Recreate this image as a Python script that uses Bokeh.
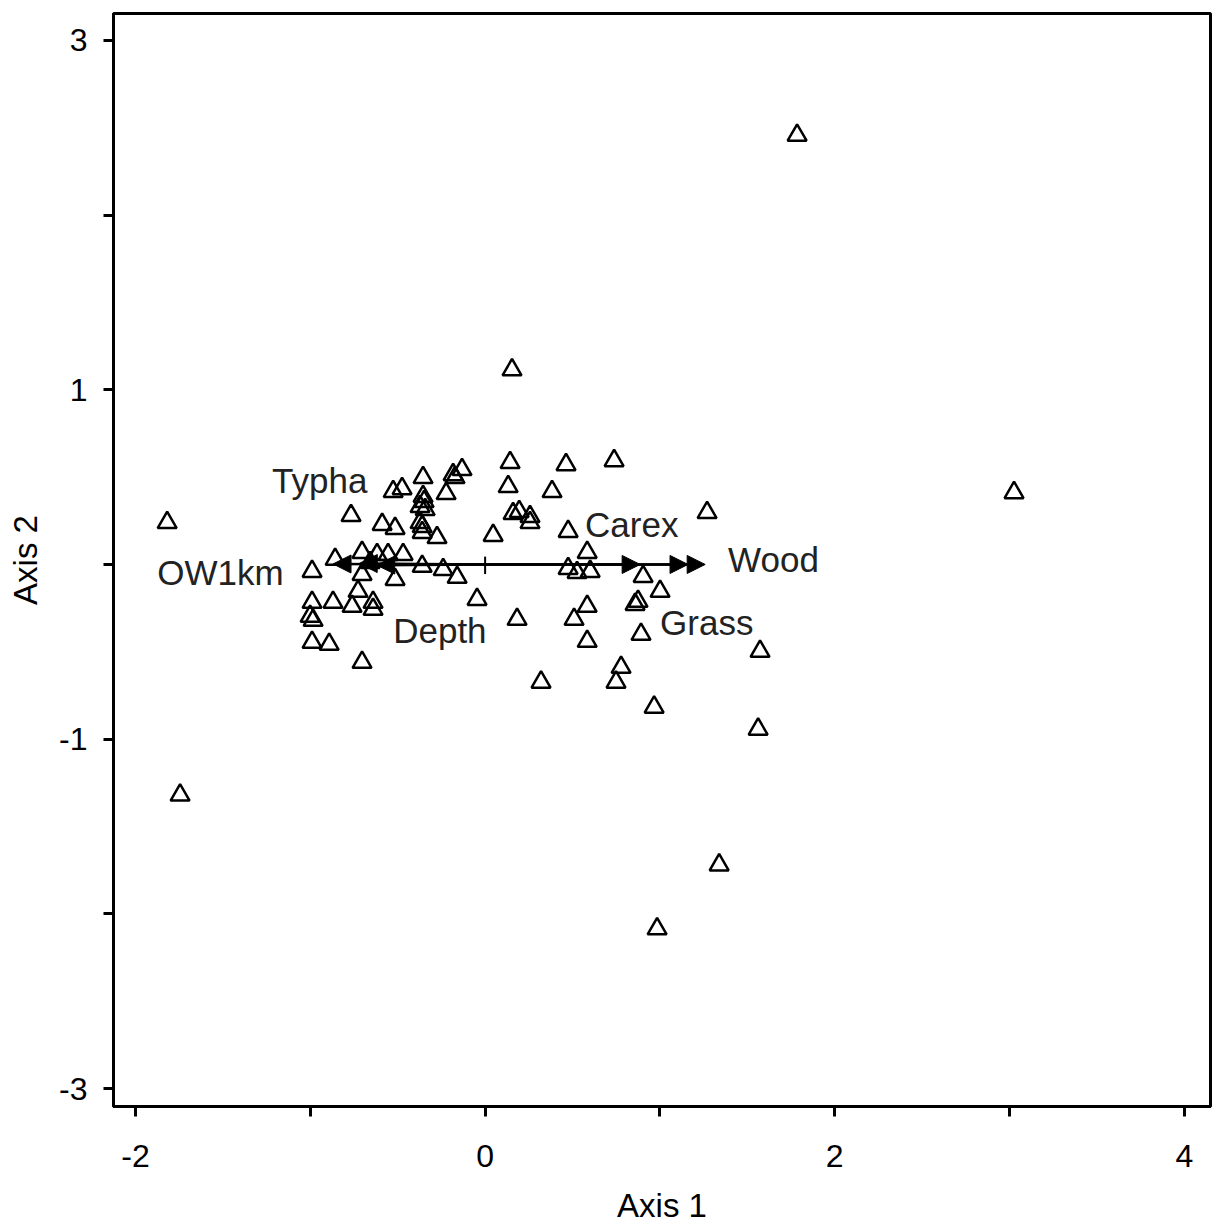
from bokeh.plotting import figure
from bokeh.models import (ColumnDataSource, Range1d, FixedTicker, Arrow, NormalHead)
from bokeh.core.properties import value
from bokeh.embed import file_html
from bokeh.resources import INLINE

# ---- data (site scores) ----
site_x = [1.785, 3.026, 0.154, -1.819, -1.745, 1.339, 0.984, 1.562, 1.573, 0.967,
          1.270, 1.001, 0.904, 0.858, 0.875, 0.892, 0.778, 0.749, 0.320, 0.183,
          0.509, 0.584, 0.584, 0.475, 0.526, 0.601, 0.584, 0.475, 0.046, 0.160,
          0.195, 0.257, 0.257, 0.132, 0.383, 0.143, 0.463, 0.738, -0.046, -0.160,
          -0.240, -0.360, -0.515, -0.704, -0.727, -0.990, -0.990, -0.870, -0.761, -0.641,
          -0.641, -1.001, -0.984, -0.990, -0.892, -0.704, -0.858, -0.704, -0.618, -0.555,
          -0.469, -0.658, -0.275, -0.589, -0.515, -0.372, -0.360, -0.360, -0.355, -0.349,
          -0.372, -0.343, -0.767, -0.526, -0.475, -0.355, -0.183, -0.132, -0.172, -0.223]
site_y = [2.457, 0.411, 1.114, 0.240, -1.320, -1.720, -2.086, -0.943, -0.497, -0.817,
          0.297, -0.154, -0.069, -0.229, -0.211, -0.400, -0.589, -0.674, -0.674, -0.314,
          -0.314, -0.240, -0.440, -0.023, -0.046, -0.040, 0.069, 0.189, 0.166, 0.291,
          0.303, 0.274, 0.240, 0.446, 0.417, 0.583, 0.571, 0.594, -0.200, -0.074,
          -0.029, -0.011, -0.086, -0.057, -0.154, -0.040, -0.217, -0.217, -0.240, -0.217,
          -0.257, -0.297, -0.320, -0.446, -0.457, -0.560, 0.029, 0.069, 0.057, 0.057,
          0.057, 0.011, 0.154, 0.229, 0.206, 0.240, 0.217, 0.183, 0.389, 0.360,
          0.331, 0.314, 0.280, 0.417, 0.434, 0.497, 0.514, 0.543, 0.497, 0.406]

# ---- environmental vectors ----
vec_names = ["OW1km", "Typha", "Depth", "Carex", "Grass", "Wood"]
vec_x = [-0.870, -0.720, -0.620, 0.887, 1.161, 1.259]
vec_y = [0.003, 0.006, -0.004, 0.0, 0.0, 0.0]
label_x = [-1.876, -1.219, -0.526, 0.572, 1.001, 1.390]
label_y = [-0.048, 0.483, -0.380, 0.226, -0.334, 0.026]

x_ticks = [-2, -1, 0, 1, 2, 3, 4]
x_tick_labels = {-2: "-2", -1: "", 0: "0", 1: "", 2: "2", 3: "", 4: "4"}
y_ticks = [-3, -2, -1, 0, 1, 2, 3]
y_tick_labels = {-3: "-3", -2: "", -1: "-1", 0: "", 1: "1", 2: "", 3: "3"}
x_title = "Axis 1"
y_title = "Axis 2"

FONT = "Liberation Sans"
X0, X1 = -2.126, 4.150
Y0, Y1 = -3.103, 3.154

p = figure(width=1216, height=1226, output_backend="svg", toolbar_location=None,
           x_range=Range1d(X0, X1), y_range=Range1d(Y0, Y1),
           min_border_left=113, min_border_right=6, min_border_top=13, min_border_bottom=118)
p.grid.visible = False
p.outline_line_color = "black"
p.outline_line_width = 3
p.background_fill_color = "white"
p.border_fill_color = "white"

for ax in (p.xaxis[0], p.yaxis[0]):
    ax.axis_line_width = 3
    ax.axis_line_color = "black"
    ax.major_tick_line_width = 3
    ax.major_tick_out = 10
    ax.major_tick_in = 0
    ax.minor_tick_line_color = None
    ax.major_label_text_font = FONT
    ax.major_label_text_font_size = "32px"
    ax.major_label_text_color = "black"
    ax.axis_label_text_font = FONT
    ax.axis_label_text_font_size = "33px"
    ax.axis_label_text_font_style = "normal"
    ax.axis_label_text_color = "black"

p.xaxis.ticker = FixedTicker(ticks=x_ticks)
p.yaxis.ticker = FixedTicker(ticks=y_ticks)
p.xaxis.major_label_overrides = x_tick_labels
p.yaxis.major_label_overrides = y_tick_labels
p.xaxis.axis_label = x_title
p.yaxis.axis_label = y_title
p.xaxis.major_label_standoff = 28
p.yaxis.major_label_standoff = 16
p.xaxis.axis_label_standoff = 17
p.yaxis.axis_label_standoff = 12
p.yaxis.major_label_orientation = "horizontal"

# site triangles
src = ColumnDataSource(dict(x=site_x, y=site_y))
p.scatter("x", "y", source=src, marker="triangle", size=19, fill_color=None,
          line_color="black", line_width=2.5)

# vectors
vsrc = ColumnDataSource(dict(x0=[0.0] * len(vec_x), y0=[0.0] * len(vec_y), x1=vec_x, y1=vec_y))
p.add_layout(Arrow(end=NormalHead(size=18, fill_color="black", line_color="black", line_width=1),
                   x_start="x0", y_start="y0", x_end="x1", y_end="y1", source=vsrc,
                   line_width=2.5, line_color="black"))
# origin mark
p.segment(x0=[0], y0=[-0.055], x1=[0], y1=[0.045], line_color="black", line_width=2)

lsrc = ColumnDataSource(dict(x=label_x, y=label_y, t=vec_names))
p.text("x", "y", text="t", source=lsrc, text_font=value(FONT), text_font_size="35px",
       text_color="#222222", text_baseline="alphabetic", text_align="left")

open("out.html", "w").write(file_html(p, INLINE))
